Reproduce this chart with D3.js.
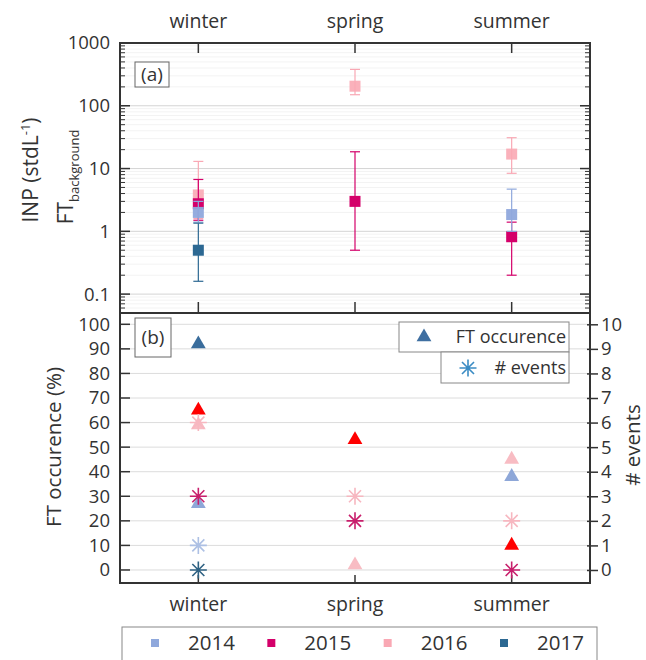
<!DOCTYPE html>
<html>
<head>
<meta charset="utf-8">
<script src="https://d3js.org/d3.v7.min.js"></script>
<style>
  body { margin: 0; background: #fff; }
  text { font-family: "Open Sans", sans-serif; fill: #333; }
</style>
</head>
<body>
<script>
// ---- data ----
var seasons = ["winter", "spring", "summer"];
var years = ["2014", "2015", "2016", "2017"];
var yearColors = ["#8fa8dc", "#d4006a", "#f9a8b4", "#2c6892"];

// INP concentration FT background (stdL-1), per season (null = no data)
var inp2014 = [2.0, null, 1.85], inp2014Lo = [1.4, null, 1.0], inp2014Hi = [3.0, null, 4.7];
var inp2015 = [2.75, 3.0, 0.82], inp2015Lo = [1.5, 0.5, 0.2], inp2015Hi = [6.7, 18.5, 1.4];
var inp2016 = [3.8, 205, 17], inp2016Lo = [1.6, 150, 8.4], inp2016Hi = [13, 380, 31];
var inp2017 = [0.5, null, null], inp2017Lo = [0.16, null, null], inp2017Hi = [1.35, null, null];

// FT occurence (%)
var occ2014 = [27, null, 38];
var occ2015 = [65, 53, 10];
var occ2016 = [59, 2, 45];
var occ2017 = [92, null, null];

// number of events
var ev2014 = [1, null, null];
var ev2015 = [3, 2, 0];
var ev2016 = [6, 3, 2];
var ev2017 = [0, null, null];

var occColors = ["#8ea7d8", "#ff0000", "#f8bcc3", "#3a6d9c"];
var evColors = ["#adc0e4", "#c81f6c", "#f7b7c0", "#2f6283"];

var inpTicks = [0.1, 1, 10, 100, 1000];
var occTicks = d3.range(0, 101, 10);
var evTicks = d3.range(0, 11, 1);

// ---- layout ----
var W = 646, H = 660;
var L = 120, R = 590;
var aTop = 43, aBot = 313, bTop = 313, bBot = 583;

var svg = d3.select("body").append("svg").attr("width", W).attr("height", H);

var x = d3.scalePoint().domain(seasons).range([L, R]).padding(0.5);
var yA = d3.scaleLog().domain([0.05, 1000]).range([aBot, aTop]);
var yB = d3.scaleLinear().domain([-5.3, 104.6]).range([bBot, bTop]);
var yE = d3.scaleLinear().domain([-0.53, 10.46]).range([bBot, bTop]);

var gridA = svg.append("g"), gridB = svg.append("g");

// panel a grid: minor then major
var minor = [];
for (var e = -2; e < 3; e++) for (var k = 2; k < 10; k++) {
  var v = k * Math.pow(10, e);
  if (v > 0.05 && v < 1000) minor.push(v);
}
gridA.selectAll("line.mn").data(minor).enter().append("line")
  .attr("x1", L).attr("x2", R).attr("y1", d => yA(d)).attr("y2", d => yA(d))
  .attr("stroke", "#f3f3f3").attr("stroke-width", 1);
gridA.selectAll("line.mj").data(inpTicks.slice(0, 4)).enter().append("line")
  .attr("x1", L).attr("x2", R).attr("y1", d => yA(d)).attr("y2", d => yA(d))
  .attr("stroke", "#d4d4d4").attr("stroke-width", 1);

gridB.selectAll("line").data(occTicks).enter().append("line")
  .attr("x1", L).attr("x2", R).attr("y1", d => yB(d)).attr("y2", d => yB(d))
  .attr("stroke", "#dcdcdc").attr("stroke-width", 1);

// ---- axes panel a ----
var axA = svg.append("g");
axA.append("g").attr("transform", "translate(" + L + ",0)")
  .call(d3.axisLeft(yA).tickValues(inpTicks).tickSize(0).tickPadding(10).tickFormat(d => d < 1 ? "0.1" : d3.format("d")(d)))
  .call(g => g.select(".domain").remove())
  .selectAll("text").attr("font-size", 18.5).attr("fill", "#333");

function logTicks(g, x0, dir) {
  g.selectAll("line.mj").data(inpTicks).enter().append("line")
    .attr("x1", x0).attr("x2", x0 + dir * 10).attr("y1", d => yA(d)).attr("y2", d => yA(d))
    .attr("stroke", "#333").attr("stroke-width", 1.5);
  g.selectAll("line.mn").data(minor).enter().append("line")
    .attr("x1", x0).attr("x2", x0 + dir * 5).attr("y1", d => yA(d)).attr("y2", d => yA(d))
    .attr("stroke", "#333").attr("stroke-width", 1);
}
logTicks(axA.append("g"), L, 1);
logTicks(axA.append("g"), R, -1);

// category ticks
svg.append("g").selectAll("line").data(seasons).enter().append("line")
  .attr("x1", d => x(d)).attr("x2", d => x(d)).attr("y1", aTop).attr("y2", aTop + 10)
  .attr("stroke", "#333").attr("stroke-width", 1.5);
svg.append("g").selectAll("line").data(seasons).enter().append("line")
  .attr("x1", d => x(d)).attr("x2", d => x(d)).attr("y1", aBot).attr("y2", aBot - 11)
  .attr("stroke", "#333").attr("stroke-width", 1.5);
svg.append("g").selectAll("line").data(seasons).enter().append("line")
  .attr("x1", d => x(d)).attr("x2", d => x(d)).attr("y1", bBot).attr("y2", bBot - 8)
  .attr("stroke", "#333").attr("stroke-width", 1.5);

svg.append("g").selectAll("text").data(seasons).enter().append("text")
  .attr("x", d => x(d)).attr("y", 28).attr("text-anchor", "middle")
  .attr("font-size", 19.5).text(d => d);
svg.append("g").selectAll("text").data(seasons).enter().append("text")
  .attr("x", d => x(d)).attr("y", 611).attr("text-anchor", "middle")
  .attr("font-size", 19.5).text(d => d);

// ---- axes panel b ----
svg.append("g").attr("transform", "translate(" + L + ",0)")
  .call(d3.axisLeft(yB).tickValues(occTicks).tickSize(0).tickPadding(10))
  .call(g => g.select(".domain").remove())
  .selectAll("text").attr("font-size", 18.5).attr("fill", "#333");
svg.append("g").selectAll("line").data(occTicks).enter().append("line")
  .attr("x1", L - 1).attr("x2", L + 10).attr("y1", d => yB(d)).attr("y2", d => yB(d))
  .attr("stroke", "#333").attr("stroke-width", 1.5);

svg.append("g").attr("transform", "translate(" + R + ",0)")
  .call(d3.axisRight(yE).tickValues(evTicks).tickSize(8).tickPadding(3))
  .call(g => g.select(".domain").remove())
  .call(g => g.selectAll("line").attr("stroke", "#333").attr("stroke-width", 1.5).attr("x1", -3))
  .selectAll("text").attr("font-size", 18.5).attr("fill", "#333");

// frames
svg.append("rect").attr("x", L).attr("y", aTop).attr("width", R - L).attr("height", aBot - aTop)
  .attr("fill", "none").attr("stroke", "#333").attr("stroke-width", 2);
svg.append("rect").attr("x", L).attr("y", bTop).attr("width", R - L).attr("height", bBot - bTop)
  .attr("fill", "none").attr("stroke", "#333").attr("stroke-width", 2);

// axis titles
svg.append("text").attr("transform", "translate(38,170) rotate(-90)")
  .attr("text-anchor", "middle").attr("font-size", 21)
  .call(t => {
    t.append("tspan").text("INP (stdL");
    t.append("tspan").attr("dy", -8).attr("font-size", 13).text("-1");
    t.append("tspan").attr("dy", 8).text(")");
  });
svg.append("text").attr("transform", "translate(73,177) rotate(-90)")
  .attr("text-anchor", "middle").attr("font-size", 21)
  .call(t => {
    t.append("tspan").text("FT");
    t.append("tspan").attr("dy", 6).attr("font-size", 13).text("background");
  });
svg.append("text").attr("transform", "translate(61,447) rotate(-90)")
  .attr("text-anchor", "middle").attr("font-size", 20.5).text("FT occurence (%)");
svg.append("text").attr("transform", "translate(640,445) rotate(-90)")
  .attr("text-anchor", "middle").attr("font-size", 20.5).text("# events");

// panel tags
svg.append("rect").attr("x", 135).attr("y", 62).attr("width", 34).attr("height", 25)
  .attr("fill", "#fff").attr("stroke", "#666").attr("stroke-width", 1);
svg.append("text").attr("x", 152).attr("y", 81).attr("text-anchor", "middle").attr("font-size", 19).text("(a)");
svg.append("rect").attr("x", 135).attr("y", 318).attr("width", 36).attr("height", 39)
  .attr("fill", "#fff").attr("stroke", "#666").attr("stroke-width", 1);
svg.append("text").attr("x", 153).attr("y", 344).attr("text-anchor", "middle").attr("font-size", 19).text("(b)");

// ---- panel a marks ----
var inpSeries = [
  {c: yearColors[2], v: inp2016, lo: inp2016Lo, hi: inp2016Hi, op: 0.9},
  {c: yearColors[1], v: inp2015, lo: inp2015Lo, hi: inp2015Hi, op: 1},
  {c: yearColors[0], v: inp2014, lo: inp2014Lo, hi: inp2014Hi, op: 0.95},
  {c: yearColors[3], v: inp2017, lo: inp2017Lo, hi: inp2017Hi, op: 1}
];
inpSeries.forEach(function(s) {
  var pts = seasons.map((d, i) => ({s: d, v: s.v[i], lo: s.lo[i], hi: s.hi[i]})).filter(p => p.v != null);
  var g = svg.append("g").attr("stroke", s.c).attr("fill", s.c);
  g.selectAll("line.eb").data(pts).enter().append("line")
    .attr("x1", p => x(p.s)).attr("x2", p => x(p.s)).attr("y1", p => yA(p.lo)).attr("y2", p => yA(p.hi))
    .attr("stroke-width", 1.2);
  g.selectAll("line.cl").data(pts).enter().append("line")
    .attr("x1", p => x(p.s) - 5).attr("x2", p => x(p.s) + 5).attr("y1", p => yA(p.lo)).attr("y2", p => yA(p.lo))
    .attr("stroke-width", 1.2);
  g.selectAll("line.ch").data(pts).enter().append("line")
    .attr("x1", p => x(p.s) - 5).attr("x2", p => x(p.s) + 5).attr("y1", p => yA(p.hi)).attr("y2", p => yA(p.hi))
    .attr("stroke-width", 1.2);
  g.selectAll("rect").data(pts).enter().append("rect")
    .attr("x", p => x(p.s) - 5.5).attr("y", p => yA(p.v) - 5.5).attr("width", 11).attr("height", 11)
    .attr("stroke", "none").attr("opacity", s.op);
});

// ---- panel b marks ----
var tri = d3.symbol().type(d3.symbolTriangle).size(95);
function star(r) {
  var a = r * Math.SQRT1_2;
  return "M0," + (-r) + "V" + r + "M" + (-r) + ",0H" + r +
    "M" + (-a) + "," + (-a) + "L" + a + "," + a + "M" + (-a) + "," + a + "L" + a + "," + (-a);
}

var occSeries = [occ2016, occ2014, occ2017, occ2015];
var occIdx = [2, 0, 3, 1];
occSeries.forEach(function(arr, j) {
  var pts = seasons.map((d, i) => ({s: d, v: arr[i]})).filter(p => p.v != null);
  svg.append("g").selectAll("path").data(pts).enter().append("path")
    .attr("d", tri).attr("transform", p => "translate(" + x(p.s) + "," + yB(p.v) + ")")
    .attr("fill", occColors[occIdx[j]]);
});

var evSeries = [ev2016, ev2014, ev2017, ev2015];
evSeries.forEach(function(arr, j) {
  var pts = seasons.map((d, i) => ({s: d, v: arr[i]})).filter(p => p.v != null);
  svg.append("g").selectAll("path").data(pts).enter().append("path")
    .attr("d", star(8.5)).attr("transform", p => "translate(" + x(p.s) + "," + yE(p.v) + ")")
    .attr("fill", "none").attr("stroke", evColors[occIdx[j]]).attr("stroke-width", 1.6);
});

// ---- legend panel b ----
svg.append("rect").attr("x", 399).attr("y", 322).attr("width", 170).attr("height", 30)
  .attr("fill", "#fff").attr("stroke", "#888").attr("stroke-width", 1);
svg.append("path").attr("d", tri).attr("transform", "translate(424,337)").attr("fill", "#3f6fa1");
svg.append("text").attr("x", 566).attr("y", 343).attr("text-anchor", "end").attr("font-size", 18).text("FT occurence");
svg.append("rect").attr("x", 441).attr("y", 352).attr("width", 128).attr("height", 31)
  .attr("fill", "#fff").attr("stroke", "#888").attr("stroke-width", 1);
svg.append("path").attr("d", star(8.5)).attr("transform", "translate(468,368)")
  .attr("fill", "none").attr("stroke", "#3b8cc4").attr("stroke-width", 1.6);
svg.append("text").attr("x", 566).attr("y", 374).attr("text-anchor", "end").attr("font-size", 18).text("# events");

// ---- legend years ----
svg.append("rect").attr("x", 122).attr("y", 627).attr("width", 475).attr("height", 50)
  .attr("fill", "#fff").attr("stroke", "#888").attr("stroke-width", 1);
var lx = d3.scalePoint().domain(years).range([155, 504]);
var lg = svg.append("g").selectAll("g").data(years).enter().append("g")
  .attr("transform", d => "translate(" + lx(d) + ",643)");
lg.append("rect").attr("x", -4).attr("y", -4).attr("width", 8).attr("height", 8)
  .attr("fill", (d, i) => yearColors[i]);
lg.append("text").attr("x", 33).attr("y", 7).attr("font-size", 20.5).text(d => d);
</script>
</body>
</html>
